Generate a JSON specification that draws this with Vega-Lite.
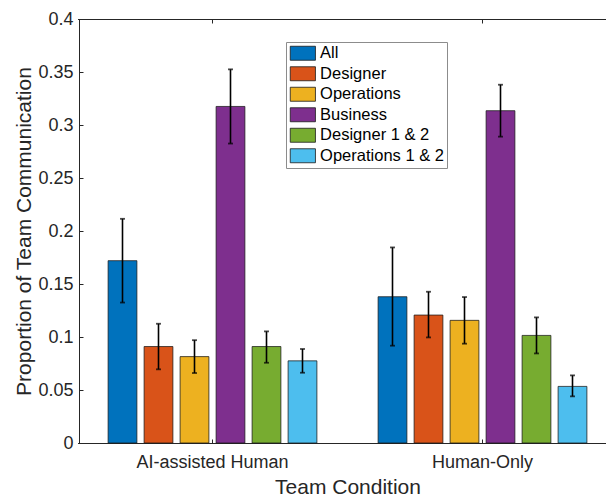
{
  "$schema": "https://vega.github.io/schema/vega-lite/v6.json",
  "width": 527,
  "height": 424,
  "autosize": "none",
  "padding": {"left": 79, "top": 19, "right": 0, "bottom": 55},
  "background": "white",
  "data": {
    "values": [
      {"condition": "AI-assisted Human", "role": "All", "value": 0.172, "lo": 0.1325, "hi": 0.2115},
      {"condition": "AI-assisted Human", "role": "Designer", "value": 0.091, "lo": 0.0695, "hi": 0.1125},
      {"condition": "AI-assisted Human", "role": "Operations", "value": 0.0815, "lo": 0.066, "hi": 0.097},
      {"condition": "AI-assisted Human", "role": "Business", "value": 0.3175, "lo": 0.2825, "hi": 0.3525},
      {"condition": "AI-assisted Human", "role": "Designer 1 & 2", "value": 0.091, "lo": 0.0757, "hi": 0.1053},
      {"condition": "AI-assisted Human", "role": "Operations 1 & 2", "value": 0.0775, "lo": 0.0663, "hi": 0.0887},
      {"condition": "Human-Only", "role": "All", "value": 0.138, "lo": 0.0918, "hi": 0.1845},
      {"condition": "Human-Only", "role": "Designer", "value": 0.1207, "lo": 0.0996, "hi": 0.1427},
      {"condition": "Human-Only", "role": "Operations", "value": 0.1157, "lo": 0.0937, "hi": 0.1377},
      {"condition": "Human-Only", "role": "Business", "value": 0.3135, "lo": 0.289, "hi": 0.338},
      {"condition": "Human-Only", "role": "Designer 1 & 2", "value": 0.1015, "lo": 0.0845, "hi": 0.1185},
      {"condition": "Human-Only", "role": "Operations 1 & 2", "value": 0.0534, "lo": 0.044, "hi": 0.0638}
    ]
  },
  "resolve": {"axis": {"x": "independent"}},
  "layer": [
    {
      "mark": {"type": "bar", "stroke": "#1a1a1a", "strokeWidth": 1, "strokeOpacity": 0.75},
      "encoding": {
        "x": {
          "field": "condition", "type": "nominal",
          "scale": {"range": [-1.5, 538.5], "paddingInner": 0, "paddingOuter": 0},
          "axis": {
            "title": "Team Condition", "labelAngle": 0, "tickSize": -4, "labelPadding": 14,
            "titlePadding": 5, "orient": "bottom"
          }
        },
        "xOffset": {
          "field": "role", "type": "nominal",
          "sort": ["All", "Designer", "Operations", "Business", "Designer 1 & 2", "Operations 1 & 2"],
          "scale": {"paddingInner": 0.2, "paddingOuter": 0.85}
        },
        "y": {
          "field": "value", "type": "quantitative",
          "scale": {"domain": [0, 0.4], "nice": false, "zero": true},
          "axis": {
            "title": "Proportion of Team Communication",
            "values": [0, 0.05, 0.1, 0.15, 0.2, 0.25, 0.3, 0.35, 0.4],
            "format": "~g", "tickSize": -4, "labelPadding": 10, "titlePadding": 3, "grid": false
          }
        },
        "color": {
          "field": "role", "type": "nominal",
          "scale": {
            "domain": ["All", "Designer", "Operations", "Business", "Designer 1 & 2", "Operations 1 & 2"],
            "range": ["#0072BD", "#D95319", "#EDB120", "#7E2F8E", "#77AC30", "#4DBEEE"]
          },
          "legend": {
            "title": null, "orient": "none", "legendX": 207, "legendY": 23,
            "symbolType": "M-1,-1H2.6V1H-1Z", "symbolSize": 196,
            "symbolStrokeColor": "#1a1a1a", "symbolStrokeWidth": 0.8, "symbolOpacity": 1,
            "labelFontSize": 16.5, "labelFont": "Liberation Sans", "labelColor": "#000000",
            "labelOffset": 14.6, "rowPadding": 2.5, "padding": 3,
            "strokeColor": "#8c8c8c", "fillColor": "white"
          }
        }
      }
    },
    {
      "mark": {"type": "rule", "color": "#000000", "strokeWidth": 1.6},
      "encoding": {
        "x": {
          "field": "condition", "type": "nominal",
          "axis": {"orient": "top", "labels": false, "title": null, "tickSize": -4, "domain": true}
        },
        "xOffset": {
          "field": "role", "type": "nominal",
          "sort": ["All", "Designer", "Operations", "Business", "Designer 1 & 2", "Operations 1 & 2"]
        },
        "y": {"field": "lo", "type": "quantitative", "title": "Proportion of Team Communication"},
        "y2": {"field": "hi"}
      }
    },
    {
      "mark": {"type": "tick", "color": "#000000", "size": 5, "thickness": 1.8},
      "encoding": {
        "x": {"field": "condition", "type": "nominal", "axis": null},
        "xOffset": {
          "field": "role", "type": "nominal",
          "sort": ["All", "Designer", "Operations", "Business", "Designer 1 & 2", "Operations 1 & 2"]
        },
        "y": {"field": "lo", "type": "quantitative", "title": "Proportion of Team Communication"}
      }
    },
    {
      "mark": {"type": "tick", "color": "#000000", "size": 5, "thickness": 1.8},
      "encoding": {
        "x": {"field": "condition", "type": "nominal", "axis": null},
        "xOffset": {
          "field": "role", "type": "nominal",
          "sort": ["All", "Designer", "Operations", "Business", "Designer 1 & 2", "Operations 1 & 2"]
        },
        "y": {"field": "hi", "type": "quantitative", "title": "Proportion of Team Communication"}
      }
    }
  ],
  "config": {
    "view": {"stroke": null},
    "font": "Liberation Sans",
    "axis": {
      "labelFont": "Liberation Sans", "titleFont": "Liberation Sans",
      "labelFontSize": 18, "titleFontSize": 21, "titleFontWeight": "normal",
      "labelColor": "#262626", "titleColor": "#262626",
      "domainColor": "#262626", "tickColor": "#262626", "domainWidth": 1, "tickWidth": 1
    }
  }
}
